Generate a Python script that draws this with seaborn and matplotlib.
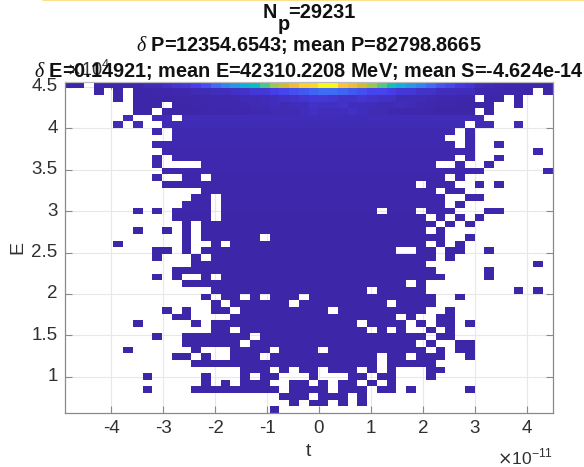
"""Longitudinal phase space of the bunch, E against t, as a 50x50 histogram."""

import matplotlib
matplotlib.use("Agg")
import matplotlib.pyplot as plt
import numpy as np
import seaborn as sns
from matplotlib.colors import LinearSegmentedColormap
from matplotlib.lines import Line2D

T_RANGE = (-4.9e-11, 4.5e-11)
E_RANGE = (0.565e4, 4.56e4)
T_TICKS = [-4e-11, -3e-11, -2e-11, -1e-11, 0, 1e-11, 2e-11, 3e-11, 4e-11]
T_LABELS = ["-4", "-3", "-2", "-1", "0", "1", "2", "3", "4"]
E_TICKS = [1e4, 1.5e4, 2e4, 2.5e4, 3e4, 3.5e4, 4e4, 4.5e4]
E_LABELS = ["1", "1.5", "2", "2.5", "3", "3.5", "4", "4.5"]

TITLE_LINES = [
    r"$\delta$ P=12354.6543; mean P=82798.8665",
    r"$\delta$ E=0.14921; mean E=42310.2208 MeV; mean S=-4.624e-14",
]

# occupied bins per energy row, top row first, inclusive column ranges
OCCUPIED = [
    [(0, 1), (3, 49)],
    [(3, 3), (5, 5), (7, 47), (49, 49)],
    [(5, 5), (7, 41), (43, 44), (46, 46)],
    [(7, 9), (11, 43), (46, 46)],
    [(7, 8), (10, 41), (43, 43)],
    [(6, 6), (9, 10), (12, 42)],
    [(5, 5), (7, 7), (10, 40), (42, 43), (46, 46)],
    [(9, 9), (11, 39), (41, 41)],
    [(11, 38), (41, 41)],
    [(9, 39), (41, 41), (44, 44)],
    [(10, 41), (48, 48)],
    [(9, 9), (11, 39), (41, 41), (44, 44)],
    [(9, 9), (14, 37), (40, 40), (43, 43)],
    [(10, 42), (49, 49)],
    [(9, 9), (12, 13), (15, 38), (40, 40)],
    [(10, 35), (37, 39), (42, 42), (44, 44)],
    [(14, 37), (39, 40)],
    [(13, 14), (16, 38), (41, 42)],
    [(12, 14), (16, 38), (40, 40)],
    [(7, 7), (9, 9), (11, 14), (16, 31), (33, 35), (37, 39), (43, 44)],
    [(11, 14), (16, 36), (38, 38), (40, 40), (42, 42)],
    [(12, 12), (14, 37), (39, 39), (41, 41)],
    [(7, 7), (10, 10), (12, 12), (14, 36), (38, 38)],
    [(12, 12), (14, 19), (21, 38), (41, 41)],
    [(5, 5), (12, 12), (15, 15), (17, 36), (38, 38), (40, 40)],
    [(9, 10), (12, 12), (14, 33), (36, 37), (39, 40), (43, 43)],
    [(9, 9), (13, 13), (15, 37), (39, 39)],
    [(13, 36), (48, 48)],
    [(11, 37), (43, 43)],
    [(9, 9), (11, 11), (14, 14), (16, 38), (43, 43)],
    [(12, 34), (36, 36)],
    [(15, 30), (32, 36), (46, 46), (48, 48)],
    [(14, 14), (16, 17), (19, 19), (21, 23), (25, 37), (40, 40)],
    [(15, 15), (17, 22), (24, 32), (34, 37)],
    [(10, 10), (12, 12), (15, 16), (18, 26), (28, 36), (39, 39)],
    [(11, 12), (17, 33), (35, 35), (38, 39)],
    [(7, 7), (13, 13), (15, 29), (31, 34), (36, 36), (38, 39), (41, 41)],
    [(15, 16), (18, 30), (32, 32), (34, 34), (37, 37), (39, 39)],
    [(9, 9), (12, 18), (20, 36), (38, 39)],
    [(12, 17), (19, 35), (37, 37), (40, 41)],
    [(6, 6), (13, 13), (17, 20), (22, 25), (27, 36), (38, 38), (40, 41)],
    [(11, 12), (14, 14), (17, 19), (21, 31), (33, 34), (36, 38), (41, 41)],
    [(13, 31), (33, 37)],
    [(18, 20), (22, 22), (24, 25), (27, 29), (31, 31), (33, 33), (37, 38)],
    [(8, 8), (14, 14), (18, 18), (20, 21), (25, 25), (29, 30), (32, 33), (37, 37)],
    [(14, 14), (16, 16), (18, 20), (23, 24), (26, 26), (28, 29), (31, 31), (33, 33)],
    [(8, 8), (13, 21), (23, 26), (28, 30), (32, 33), (35, 35), (41, 41)],
    [(22, 24), (26, 28), (30, 30)],
    [(23, 23), (25, 26), (28, 28), (30, 30)],
    [(21, 21)],
]

# relative bin heights of the brightest rows
ROW_0 = [0.0, 0.0, 0.0, 0.005, 0.005, 0.005, 0.005, 0.005, 0.02, 0.02,
         0.04, 0.06, 0.07, 0.1, 0.14, 0.2, 0.27, 0.33, 0.42, 0.5,
         0.6, 0.72, 0.8, 0.87, 0.93, 0.94, 1.0, 1.0, 0.91, 0.87,
         0.8, 0.72, 0.62, 0.52, 0.43, 0.34, 0.27, 0.2, 0.15, 0.12,
         0.08, 0.06, 0.03, 0.02, 0.015, 0.01, 0.01, 0.005, 0.005, 0.0]
ROW_1 = [0.0, 0.0, 0.0, 0.0, 0.0, 0.0, 0.0, 0.0, 0.0, 0.005,
         0.005, 0.01, 0.01, 0.02, 0.02, 0.03, 0.03, 0.04, 0.05, 0.07,
         0.07, 0.09, 0.11, 0.14, 0.16, 0.18, 0.2, 0.2, 0.18, 0.16,
         0.14, 0.11, 0.11, 0.09, 0.07, 0.07, 0.05, 0.05, 0.03, 0.03,
         0.03, 0.03, 0.01, 0.01, 0.01, 0.005, 0.005, 0.0, 0.0, 0.0]
ROW_2 = [0.0, 0.0, 0.0, 0.0, 0.0, 0.0, 0.0, 0.0, 0.0, 0.0,
         0.0, 0.0, 0.005, 0.005, 0.01, 0.01, 0.01, 0.015, 0.02, 0.02,
         0.025, 0.03, 0.04, 0.05, 0.06, 0.07, 0.07, 0.06, 0.05, 0.05,
         0.06, 0.05, 0.04, 0.04, 0.02, 0.02, 0.02, 0.015, 0.01, 0.01,
         0.005, 0.005, 0.0, 0.0, 0.0, 0.0, 0.0, 0.0, 0.0, 0.0]
ROW_3 = [0.0, 0.0, 0.0, 0.0, 0.0, 0.0, 0.0, 0.0, 0.0, 0.0,
         0.0, 0.0, 0.0, 0.005, 0.005, 0.01, 0.01, 0.01, 0.015, 0.02,
         0.02, 0.03, 0.02, 0.03, 0.03, 0.05, 0.04, 0.04, 0.05, 0.03,
         0.03, 0.03, 0.02, 0.02, 0.03, 0.02, 0.015, 0.01, 0.005, 0.005,
         0.0, 0.0, 0.0, 0.0, 0.0, 0.0, 0.0, 0.0, 0.0, 0.0]
ROW_4 = [0.0, 0.0, 0.0, 0.0, 0.0, 0.0, 0.0, 0.0, 0.0, 0.0,
         0.0, 0.0, 0.0, 0.0, 0.005, 0.005, 0.005, 0.01, 0.01, 0.015,
         0.015, 0.02, 0.02, 0.02, 0.03, 0.04, 0.03, 0.03, 0.03, 0.04,
         0.03, 0.02, 0.02, 0.015, 0.01, 0.01, 0.005, 0.005, 0.0, 0.0,
         0.0, 0.0, 0.0, 0.0, 0.0, 0.0, 0.0, 0.0, 0.0, 0.0]
BRIGHT_ROWS = [ROW_0, ROW_1, ROW_2, ROW_3, ROW_4]

# typical height of the remaining rows, fifth row from the top downwards
BODY_LEVELS = [0.025, 0.02, 0.015, 0.012, 0.012, 0.01, 0.01, 0.008, 0.008, 0.006,
               0.006, 0.005, 0.005, 0.004, 0.004, 0.003, 0.003, 0.003, 0.002, 0.002,
               0.002, 0.002, 0.001, 0.001, 0.001, 0.001, 0.001, 0.001, 0.001, 0.0,
               0.0, 0.0, 0.0, 0.0, 0.0, 0.0, 0.0, 0.0, 0.0, 0.0,
               0.0, 0.0, 0.0, 0.0, 0.0]

PARULA = ["#3E26A8", "#4640EC", "#3F6CF5", "#2C8FE8", "#17A9DA", "#06BEBF",
          "#46C88C", "#8FC958", "#D2BB30", "#FDBC3C", "#F9FB15"]
GREY = "#8a8a8a"
TEXT = "#303030"
W, H = 584, 467
AXES_PX = (64.5, 81.7, 552.7, 413.0)
TITLE_SIZE = 14.3


def build_grid() -> np.ndarray:
    grid = np.full((50, 50), np.nan)
    for r, spans in enumerate(OCCUPIED):
        for first, last in spans:
            for c in range(first, last + 1):
                if r < len(BRIGHT_ROWS):
                    grid[r, c] = BRIGHT_ROWS[r][c]
                else:
                    grid[r, c] = BODY_LEVELS[r - len(BRIGHT_ROWS)]
    return grid


def title_piece(x_px, y_px, text, ha="left"):
    fig.text(x_px / W, 1 - y_px / H, text, ha=ha, va="center", fontsize=TITLE_SIZE,
             fontweight="bold", color="#111111")


sns.set_theme(style="white")
plt.rcParams["font.family"] = ["Liberation Sans", "DejaVu Sans"]
plt.rcParams["mathtext.fontset"] = "custom"
plt.rcParams["mathtext.rm"] = "Liberation Sans:bold"
plt.rcParams["mathtext.it"] = "Liberation Serif:italic"
plt.rcParams["mathtext.bf"] = "Liberation Sans:bold"
plt.rcParams["mathtext.fallback"] = "stix"

fig = plt.figure(figsize=(W / 100, H / 100), dpi=100)
x0, y0, x1, y1 = AXES_PX
ax = fig.add_axes([x0 / W, 1 - y1 / H, (x1 - x0) / W, (y1 - y0) / H])

grid = build_grid()
cmap = LinearSegmentedColormap.from_list("parula_like", PARULA)
sns.heatmap(grid, mask=np.isnan(grid), vmin=0, vmax=1, cmap=cmap, cbar=False,
            square=False, ax=ax)

# heatmap axes count bins, so bring the physical ticks onto that scale
x_pos = [(t - T_RANGE[0]) / (T_RANGE[1] - T_RANGE[0]) * 50 for t in T_TICKS]
y_pos = [(E_RANGE[1] - e) / (E_RANGE[1] - E_RANGE[0]) * 50 for e in E_TICKS]
ax.set_xticks(x_pos, T_LABELS, rotation=0)
ax.set_yticks(y_pos, E_LABELS, rotation=0)
ax.tick_params(axis="both", direction="in", length=5, width=0.8, color=GREY,
               labelsize=13.5, labelcolor=TEXT, top=True, right=True, bottom=True,
               left=True, pad=5)
ax.set_axisbelow(True)
ax.grid(True, color="#e8e8e8", linewidth=0.8)
for side, spine in ax.spines.items():
    spine.set_visible(True)
    spine.set_linewidth(0.9)
    spine.set_color(GREY if side in ("left", "bottom", "right") else "#bbbbbb")

fig.text(18 / W, 1 - 247 / H, "E", rotation=90, ha="center", va="center",
         fontsize=14, color=TEXT)
fig.text(308 / W, 1 - 452 / H, "t", ha="center", va="center", fontsize=14, color=TEXT)
fig.text(497 / W, 1 - 457 / H, r"$\times$10$^{\mathregular{-11}}$", ha="left", va="center",
         fontsize=12.5, color=TEXT, math_fontfamily="dejavusans")
fig.text(66 / W, 1 - 70 / H, r"$\times$10$^{\mathregular{4}}$", ha="left", va="center",
         fontsize=13, color=TEXT, math_fontfamily="dejavusans")

# the subscript is as large as the rest of the line in the source
title_piece(263, 13, "N")
title_piece(277.5, 25, "p")
title_piece(288, 13, "=29231")
for text, y_px in zip(TITLE_LINES, [45, 71]):
    title_piece(308.5, y_px, text, ha="center")

# pale strip along the top edge of the source image
fig.add_artist(Line2D([43 / W, 1], [0.999, 0.999], color="#FFE08A", linewidth=1.5))

fig.savefig("out.png", dpi=100)
